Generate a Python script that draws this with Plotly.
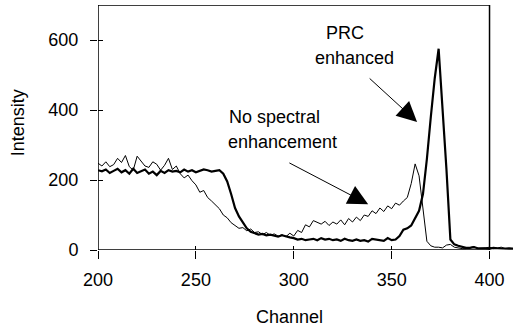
import plotly.graph_objects as go

channels = list(range(200, 414, 2))

no_spectral = [
    248, 240, 252, 238, 244, 262, 250, 270, 238, 228,
    268, 255, 240, 236, 252, 245, 228, 242, 262, 230,
    240, 218, 206, 214, 198, 186, 165, 170, 150, 140,
    128, 118, 100, 92, 78, 70, 62, 64, 55, 60,
    50, 52, 44, 50, 42, 46, 40, 44, 38, 48,
    40, 56, 50, 72, 66, 84, 78, 74, 82, 70,
    80, 74, 86, 72, 90, 80, 94, 84, 100, 96,
    112, 104, 120, 110, 126, 118, 134, 128, 140, 150,
    190, 246, 212, 120, 25, 12, 8, 8, 6, 14,
    16, 8, 5, 4, 4, 6, 10, 4, 4, 6,
    8, 4, 6, 8, 4, 6, 4,
]

prc_enhanced = [
    228, 225, 230, 220, 226, 232, 222, 228, 218, 232,
    220, 226, 230, 218, 224, 214, 226, 220, 228, 224,
    226, 222, 230, 224, 228, 222, 226, 230, 228, 224,
    226, 228, 218, 196, 160, 120, 96, 80, 62, 52,
    48, 44, 46, 42, 44, 40, 38, 42, 38, 36,
    34, 30, 32, 28, 30, 32, 28, 34, 30, 32,
    28, 30, 26, 32, 28, 26, 30, 26, 28, 24,
    32, 30, 28, 26, 34, 28, 30, 40, 58, 62,
    70, 90, 112, 160, 260, 380, 490, 575, 410, 230,
    30, 16, 12, 8, 6, 6, 8, 5, 6, 5,
    4, 6, 5, 4, 5, 4, 4,
]

x_ticks = [200, 250, 300, 350, 400]
y_ticks = [0, 200, 400, 600]

FONT = "Liberation Sans, Arial, sans-serif"

fig = go.Figure()
fig.add_trace(go.Scatter(x=channels, y=no_spectral, mode="lines",
                         line=dict(color="black", width=1), name="No spectral enhancement"))
fig.add_trace(go.Scatter(x=channels, y=prc_enhanced, mode="lines",
                         line=dict(color="black", width=2.2), name="PRC enhanced"))
# empty trace so the overlay axes (inner halves of the crossing ticks) get drawn
fig.add_trace(go.Scatter(x=[None], y=[None], xaxis="x2", yaxis="y2", mode="lines",
                         hoverinfo="skip", showlegend=False))

# plot box
fig.add_shape(type="rect", xref="x", yref="y", x0=200, x1=400, y0=0, y1=700,
              line=dict(color="black", width=1.5), layer="above")

# annotations: text
for txt, x, y in [("PRC", 326, 620), ("enhanced", 331, 549),
                  ("No spectral", 290, 380), ("enhancement", 294, 309)]:
    fig.add_annotation(x=x, y=y, xref="x", yref="y", text=txt, showarrow=False,
                       xanchor="center", yanchor="middle",
                       font=dict(family=FONT, size=18, color="black"))

# arrows
for (tx, ty, hx, hy) in [(338, 494, 363, 366), (297, 251, 338, 131)]:
    fig.add_annotation(x=hx, y=hy, ax=tx, ay=ty, xref="x", yref="y", axref="x", ayref="y",
                       text="", showarrow=True, arrowhead=2, arrowsize=4, arrowwidth=1,
                       arrowcolor="black")

fig.add_annotation(x=-0.192, y=0.518, xref="paper", yref="paper", text="Intensity",
                   textangle=-90, showarrow=False, xanchor="center", yanchor="middle",
                   font=dict(family=FONT, size=18, color="black"))
fig.add_annotation(x=0.4615, y=-0.2735, xref="paper", yref="paper", text="Channel",
                   showarrow=False, xanchor="center", yanchor="middle",
                   font=dict(family=FONT, size=18, color="black"))

fig.update_layout(
    width=514, height=327,
    margin=dict(l=98, r=0, t=5, b=77),
    paper_bgcolor="white", plot_bgcolor="white",
    showlegend=False,
    xaxis=dict(range=[200, 412.5], tickvals=x_ticks, ticks="outside", ticklen=8,
               tickcolor="black", tickwidth=1.3, showgrid=False, zeroline=False,
               showline=False, ticklabelstandoff=5,
               tickfont=dict(family=FONT, size=18, color="black")),
    yaxis=dict(range=[0, 700], tickvals=y_ticks, ticks="outside", ticklen=7,
               tickcolor="black", tickwidth=1.3, showgrid=False, zeroline=False,
               showline=False, ticklabelstandoff=8,
               tickfont=dict(family=FONT, size=18, color="black")),
    xaxis2=dict(range=[200, 412.5], overlaying="x", anchor="y2", tickvals=x_ticks,
                ticks="inside", ticklen=4, tickcolor="black", tickwidth=1.3,
                showticklabels=False, showgrid=False, zeroline=False, showline=False),
    yaxis2=dict(range=[0, 700], overlaying="y", anchor="x2", side="left", tickvals=y_ticks,
                ticks="inside", ticklen=5, tickcolor="black", tickwidth=1.3,
                showticklabels=False, showgrid=False, zeroline=False, showline=False),
)

fig.write_html("out.html")
